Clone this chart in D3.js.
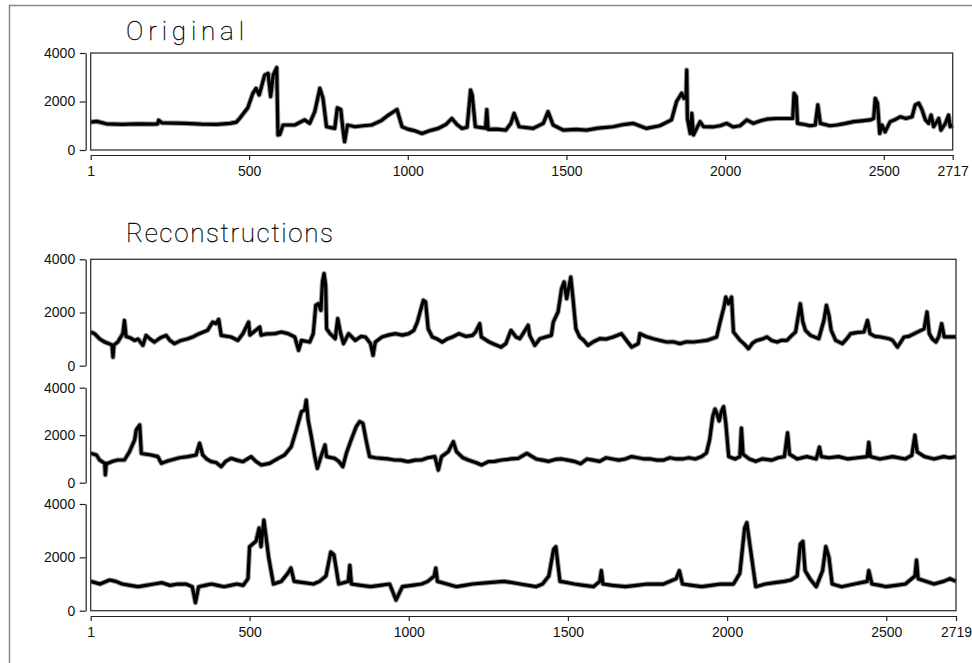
<!DOCTYPE html>
<html>
<head>
<meta charset="utf-8">
<script src="https://cdn.jsdelivr.net/npm/d3@7"></script>
<style>
    body { margin: 0; background: #fff; }
    .tick text { font-family: "Liberation Sans", Arial, sans-serif; font-size: 14px; fill: #111; }
    .title { font-family: Roboto, sans-serif; font-weight: 100; font-size: 26px; fill: #000; stroke: #000; stroke-width: 0.3; }
</style>
</head>
<body>
<svg id="chart"></svg>
<script>
// series: [index, value]
const original = [[1,1150],[20,1180],[50,1080],[100,1060],[150,1080],[200,1070],[212,1080],[215,1230],[225,1120],[300,1100],[350,1070],[400,1060],[440,1100],[460,1150],[470,1300],[496,1740],[512,2340],[522,2540],[532,2270],[549,3090],[560,3160],[568,2200],[576,3090],[587,3400],[591,620],[597,640],[607,1030],[644,1030],[675,1240],[691,1100],[707,1580],[723,2540],[733,2130],[744,960],[770,890],[778,1740],[789,1670],[796,820],[801,340],[810,1030],[834,960],[860,1000],[886,1030],[915,1200],[939,1440],[966,1670],[982,960],[1000,860],[1020,800],[1045,680],[1070,800],[1096,890],[1120,1050],[1139,1300],[1155,1050],[1171,890],[1187,940],[1198,2470],[1203,2270],[1213,960],[1245,900],[1249,1670],[1253,850],[1280,860],[1309,820],[1325,1100],[1335,1510],[1351,960],[1395,890],[1427,1100],[1442,1580],[1458,1030],[1490,820],[1530,850],[1563,820],[1600,900],[1647,960],[1680,1050],[1710,1100],[1730,1000],[1752,890],[1794,1000],[1831,1240],[1847,2000],[1863,2340],[1870,2130],[1877,2200],[1879,3300],[1881,1300],[1890,680],[1895,1510],[1900,620],[1921,1170],[1932,960],[1960,950],[1984,1000],[2005,1100],[2025,950],[2047,1000],[2068,1240],[2089,1100],[2110,1200],[2131,1270],[2160,1300],[2194,1300],[2213,1300],[2217,2340],[2224,2200],[2228,1100],[2250,1050],[2268,1000],[2284,1030],[2292,1860],[2300,1100],[2330,1000],[2352,1030],[2380,1100],[2405,1170],[2430,1200],[2457,1240],[2468,1300],[2473,2130],[2480,1930],[2487,680],[2494,1030],[2504,750],[2520,1170],[2535,1250],[2552,1370],[2570,1300],[2589,1370],[2599,1860],[2610,1930],[2620,1670],[2631,1240],[2641,1100],[2649,1440],[2657,960],[2673,1300],[2680,820],[2694,1100],[2704,1440],[2709,960],[2717,1030]];

const recon1 = [[1,1267],[13,1204],[30,1000],[45,890],[68,780],[71,320],[74,780],[86,890],[102,1204],[107,1700],[112,1100],[125,1050],[139,950],[150,1000],[165,765],[175,1140],[188,1000],[201,890],[220,1050],[238,1140],[250,950],[264,830],[285,950],[306,1015],[325,1100],[342,1204],[368,1330],[384,1640],[395,1580],[403,1740],[411,1140],[442,1080],[463,950],[479,1204],[497,1640],[501,1150],[532,1455],[536,1150],[555,1200],[579,1204],[600,1267],[621,1204],[642,1080],[654,580],[663,950],[689,890],[700,1204],[708,2270],[716,2330],[724,2080],[729,3150],[734,3460],[739,3020],[742,1390],[753,1204],[769,1015],[777,1770],[785,1267],[795,830],[811,1204],[832,950],[850,1100],[864,1080],[880,830],[888,390],[895,890],[916,1080],[935,1150],[958,1204],[980,1150],[1000,1204],[1016,1330],[1027,1640],[1037,2080],[1046,2460],[1053,2400],[1061,1390],[1074,1080],[1090,1000],[1105,890],[1120,1000],[1137,1080],[1158,1204],[1180,1100],[1200,1140],[1210,1267],[1223,1580],[1228,1080],[1253,890],[1270,800],[1290,700],[1305,830],[1321,1330],[1337,1080],[1349,1015],[1359,1204],[1375,1520],[1380,1140],[1396,765],[1412,1015],[1430,1080],[1448,1140],[1454,1640],[1469,2020],[1480,2890],[1488,3150],[1496,2520],[1503,2950],[1509,3330],[1516,2520],[1525,1390],[1537,1080],[1550,950],[1563,765],[1580,900],[1600,1015],[1620,1000],[1642,1080],[1668,1204],[1684,950],[1700,700],[1721,830],[1726,1204],[1745,1100],[1768,1015],[1790,950],[1810,890],[1830,900],[1852,830],[1873,900],[1894,890],[1915,920],[1936,950],[1967,1080],[1978,1640],[1990,2200],[1996,2580],[2004,2330],[2014,2580],[2020,1267],[2041,950],[2055,800],[2067,640],[2080,850],[2093,950],[2110,1000],[2125,1080],[2140,950],[2157,890],[2170,950],[2188,950],[2200,1100],[2215,1267],[2223,1830],[2230,2330],[2238,1640],[2246,1330],[2262,1140],[2288,1015],[2304,1700],[2312,2270],[2320,1890],[2327,1330],[2341,950],[2362,830],[2375,1000],[2388,1204],[2410,1250],[2430,1267],[2441,1700],[2449,1204],[2465,1100],[2483,1080],[2509,1015],[2520,950],[2535,700],[2556,1080],[2570,1100],[2588,1204],[2609,1330],[2619,1390],[2628,2020],[2635,1204],[2645,1000],[2656,890],[2665,1100],[2674,1580],[2682,1080],[2703,1080],[2719,1080]];

const recon2 = [[1,1237],[19,1167],[29,956],[45,815],[47,325],[50,815],[55,815],[70,900],[86,956],[107,956],[123,1307],[139,1800],[144,2223],[155,2430],[160,1237],[175,1200],[191,1167],[212,1097],[223,815],[240,900],[254,956],[280,1050],[306,1097],[332,1167],[343,1660],[353,1167],[365,1000],[380,885],[395,850],[411,675],[425,900],[442,1027],[460,950],[479,885],[505,1097],[520,900],[537,745],[563,815],[590,1027],[610,1167],[631,1518],[647,2223],[663,2995],[673,3060],[678,3480],[684,2645],[694,1940],[705,1097],[713,605],[726,1167],[737,1590],[742,1097],[767,1027],[780,900],[793,675],[804,1237],[819,1800],[835,2360],[846,2575],[856,2500],[866,1800],[877,1097],[895,1050],[914,1027],[935,1000],[956,956],[975,950],[998,885],[1020,950],[1040,956],[1060,1050],[1082,1097],[1093,535],[1103,1097],[1124,1307],[1140,1730],[1150,1307],[1170,1050],[1187,956],[1210,850],[1229,745],[1250,885],[1270,900],[1292,956],[1320,1000],[1344,1027],[1371,1237],[1400,1000],[1420,950],[1440,900],[1460,980],[1480,1000],[1500,950],[1520,900],[1540,800],[1560,1000],[1580,950],[1600,900],[1620,1050],[1640,1000],[1660,950],[1680,1000],[1700,1100],[1720,1050],[1740,1000],[1760,1000],[1780,950],[1800,950],[1820,1050],[1840,1000],[1860,1000],[1880,1050],[1900,1000],[1920,1100],[1935,1250],[1945,1800],[1955,2800],[1962,3100],[1968,2900],[1975,2600],[1982,3000],[1989,3200],[1996,2500],[2005,1100],[2025,1000],[2040,1100],[2045,2300],[2050,1200],[2070,1000],[2090,900],[2110,1000],[2140,950],[2160,1050],[2180,1100],[2190,2100],[2196,1200],[2220,1000],[2250,1100],[2280,1000],[2290,1500],[2296,1100],[2320,1050],[2350,1100],[2380,1000],[2410,1050],[2440,1100],[2445,1700],[2450,1100],[2480,1000],[2520,1100],[2560,1000],[2580,1150],[2590,2000],[2597,1300],[2620,1100],[2650,1000],[2680,1100],[2700,1050],[2719,1100]];

const recon3 = [[1,1100],[30,1000],[60,1150],[80,1100],[100,1000],[125,950],[150,900],[175,950],[200,1000],[225,1050],[250,950],[275,1000],[300,1000],[320,900],[330,300],[340,900],[360,950],[380,1000],[400,950],[420,900],[440,950],[460,1000],[480,950],[495,1200],[500,2400],[520,2600],[530,3100],[536,2400],[545,3400],[560,2000],[575,1000],[600,1100],[620,1400],[630,1600],[640,1100],[670,1050],[700,1000],[720,1100],[740,1300],[755,2200],[765,2100],[780,1000],[795,1050],[810,1100],[815,1700],[820,1000],[850,950],[880,900],[910,950],[940,1000],[960,400],[980,900],[1010,950],[1040,1000],[1060,1100],[1080,1300],[1085,1600],[1090,1100],[1120,1000],[1150,900],[1175,950],[1200,1000],[1250,1050],[1300,1100],[1350,1000],[1400,900],[1420,1000],[1440,1300],[1455,2300],[1462,2400],[1475,1100],[1500,1050],[1520,1000],[1550,950],[1580,900],[1600,1100],[1605,1500],[1610,1000],[1640,950],[1680,900],[1715,950],[1750,1000],[1800,1000],[1840,1200],[1850,1500],[1860,1000],[1890,950],[1920,900],[1950,950],[1980,1000],[2020,1000],[2040,1400],[2055,3100],[2062,3300],[2070,2600],[2090,900],[2120,1000],[2150,1050],[2180,1100],[2200,1150],[2220,1300],[2230,2500],[2238,2600],[2245,1500],[2260,1200],[2280,900],[2300,1500],[2310,2400],[2320,2000],[2330,1000],[2360,900],[2400,1000],[2440,1100],[2445,1500],[2455,1000],[2480,950],[2500,900],[2530,950],[2560,1000],[2590,1300],[2595,1900],[2600,1200],[2650,1000],[2680,1100],[2700,1200],[2719,1100]];

const yTicks = [0, 2000, 4000];
const xTicksTop = [1, 500, 1000, 1500, 2000, 2500, 2717];
const xTicksBottom = [1, 500, 1000, 1500, 2000, 2500, 2719];
const titles = ["Original", "Reconstructions"];

let width = 972, height = 663;
let left = 90.7;

var svg = d3.select("#chart")
    .attr("width", width)
    .attr("height", height);

// page frame (only top/left edges visible)
svg.append("path")
    .attr("d", "M9.5," + height + "V5.5H" + width)
    .attr("fill", "none")
    .attr("stroke", "#888")
    .attr("stroke-width", 1.5);

function drawLine(data, x, y) {
    let line = d3.line()
        .x(d => x(d[0]))
        .y(d => y(d[1]));
    // soft edge, then the dark noisy band
    svg.append("path")
        .datum(data)
        .attr("fill", "none")
        .attr("stroke", "#999")
        .attr("stroke-width", 5.2)
        .attr("stroke-linejoin", "round")
        .attr("d", line);
    svg.append("path")
        .datum(data)
        .attr("fill", "none")
        .attr("stroke", "#000")
        .attr("stroke-width", 3.2)
        .attr("stroke-linejoin", "round")
        .attr("d", line);
}

function yAxis(y) {
    svg.append("g")
        .attr("transform", "translate(" + (left - 5) + ",0)")
        .call(d3.axisLeft(y).tickValues(yTicks).tickSize(6).tickSizeOuter(0).tickPadding(4.5).tickFormat(d3.format("d")))
        .call(g => g.selectAll("path,line").attr("stroke", "#222").attr("stroke-width", 1.2));
}

function xAxis(x, ticks, yPos) {
    svg.append("g")
        .attr("transform", "translate(0," + yPos + ")")
        .call(d3.axisBottom(x).tickValues(ticks).tickSize(5).tickSizeOuter(0).tickPadding(6.5).tickFormat(d3.format("d")))
        .call(g => g.selectAll("path,line").attr("stroke", "#222").attr("stroke-width", 1.2));
}

function box(x0, x1, y0, y1) {
    svg.append("rect")
        .attr("x", x0).attr("y", y0)
        .attr("width", x1 - x0).attr("height", y1 - y0)
        .attr("fill", "none")
        .attr("stroke", "#333")
        .attr("stroke-width", 1.3);
}

// ---- Original ----
let xTop = d3.scaleLinear().domain([1, 2717]).range([left, 952.7]);
let yTop = d3.scaleLinear().domain([0, 4000]).range([150, 53]);
drawLine(original, xTop, yTop);
box(left, 952.7, 53, 150);
yAxis(yTop);
xAxis(xTop, xTicksTop, 155);
svg.append("text").attr("class", "title")
    .attr("x", 126).attr("y", 40)
    .attr("textLength", 118).attr("lengthAdjust", "spacing")
    .text(titles[0]);

// ---- Reconstructions ----
let xBot = d3.scaleLinear().domain([1, 2719]).range([left, 956]);
let bands = [[259.3, 365.7], [387.7, 482.7], [504, 610.7]];
let recons = [recon1, recon2, recon3];
recons.forEach((r, i) => {
    let y = d3.scaleLinear().domain([0, 4000]).range([bands[i][1], bands[i][0]]);
    drawLine(r, xBot, y);
    yAxis(y);
});
box(left, 956, 259.3, 610.7);
xAxis(xBot, xTicksBottom, 616);
svg.append("text").attr("class", "title")
    .attr("x", 126).attr("y", 242)
    .attr("textLength", 207).attr("lengthAdjust", "spacing")
    .text(titles[1]);
</script>
</body>
</html>
